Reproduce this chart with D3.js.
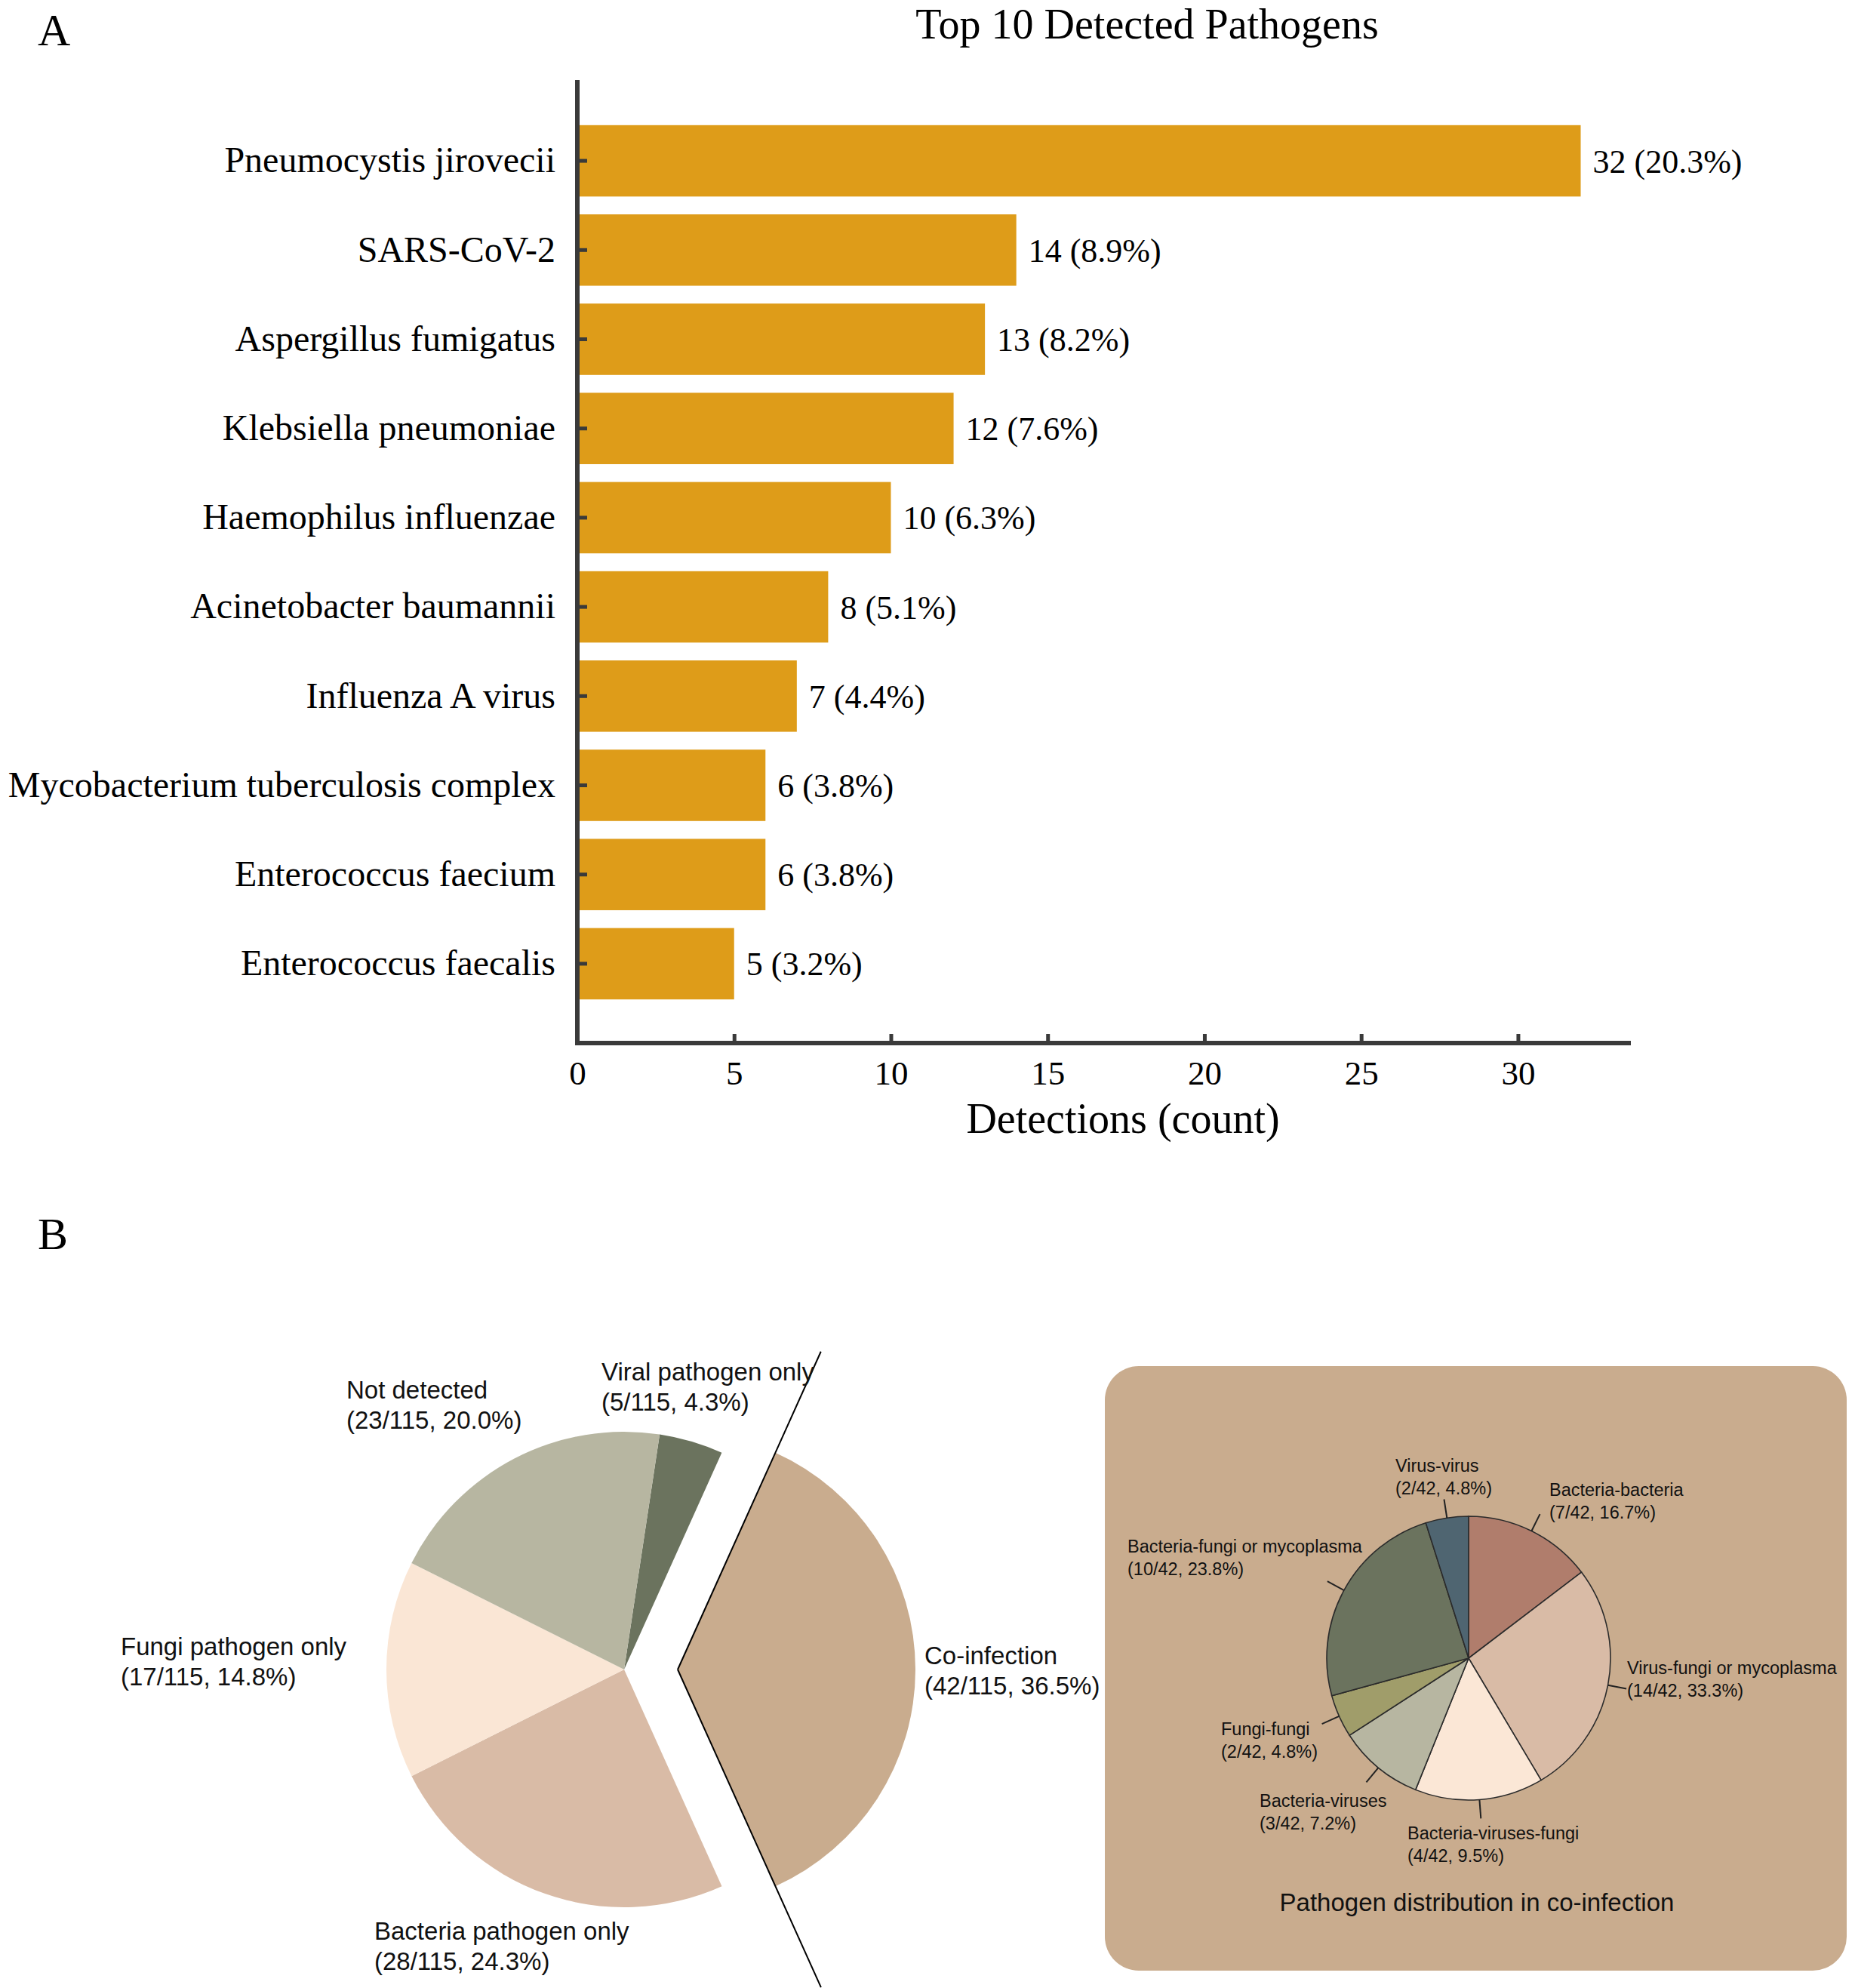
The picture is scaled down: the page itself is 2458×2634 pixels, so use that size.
<!DOCTYPE html>
<html>
<head>
<meta charset="utf-8">
<script src="https://cdn.jsdelivr.net/npm/d3@7"></script>
<style>
  body { margin: 0; background: #fff; }
  svg { display: block; }
</style>
</head>
<body>
<div id="chart"></div>
<script>
// ---- data: panel A ----
const pathogens = [
  "Pneumocystis jirovecii", "SARS-CoV-2", "Aspergillus fumigatus", "Klebsiella pneumoniae",
  "Haemophilus influenzae", "Acinetobacter baumannii", "Influenza A virus",
  "Mycobacterium tuberculosis complex", "Enterococcus faecium", "Enterococcus faecalis"
];
const detections = [32, 14, 13, 12, 10, 8, 7, 6, 6, 5];
const detectionPct = ["20.3%", "8.9%", "8.2%", "7.6%", "6.3%", "5.1%", "4.4%", "3.8%", "3.8%", "3.2%"];
const xTicks = [0, 5, 10, 15, 20, 25, 30];

// ---- data: panel B, main pie ----
const groupNames = ["Viral pathogen only", "Co-infection", "Bacteria pathogen only", "Fungi pathogen only", "Not detected"];
const groupCounts = [5, 42, 28, 17, 23];
const groupPct = ["4.3%", "36.5%", "24.3%", "14.8%", "20.0%"];
const groupTotal = 115;

// ---- data: panel B, co-infection pie ----
const coNames = ["Bacteria-bacteria", "Virus-fungi or mycoplasma", "Bacteria-viruses-fungi",
  "Bacteria-viruses", "Fungi-fungi", "Bacteria-fungi or mycoplasma", "Virus-virus"];
const coCounts = [7, 14, 4, 3, 2, 10, 2];
const coPct = ["16.7%", "33.3%", "9.5%", "7.2%", "4.8%", "23.8%", "4.8%"];
const coTotal = 42;
// slice sizes as they are drawn in the figure (not quite the printed counts)
const coSliceValues = [6, 11, 6, 4, 2, 10, 2];

// ---- styles ----
const serif = "'Liberation Serif', 'Times New Roman', serif";
const sans = "'Liberation Sans', Arial, sans-serif";
const barColor = "#DE9C19";
const axisColor = "#3a3a3a";
const groupColors = ["#6B735E", "#C9AC8E", "#D9BBA6", "#FAE6D5", "#B7B6A1"];
const coColors = ["#B07D6C", "#D9BBA6", "#FBE7D6", "#B7B6A1", "#A09D6A", "#6B735E", "#4F6571"];

const W = 2458, H = 2634;
const svg = d3.select("#chart").append("svg")
  .attr("width", W).attr("height", H)
  .attr("viewBox", `0 0 ${W} ${H}`);

// ================= Panel A =================
const ax0 = 765, ax1 = 2161, axTop = 106, axBottom = 1382;

const x = d3.scaleLinear().domain([0, 33.6]).range([ax0, ax1]);
const y = d3.scaleBand().domain(pathogens).range([154, 1336])
  .paddingInner(0.2).paddingOuter(0.1);

svg.append("text")
  .attr("x", 50).attr("y", 60)
  .attr("font-family", serif).attr("font-size", 60)
  .text("A");

svg.append("text")
  .attr("x", 1520).attr("y", 51)
  .attr("text-anchor", "middle")
  .attr("font-family", serif).attr("font-size", 56)
  .text("Top 10 Detected Pathogens");

const bars = pathogens.map((p, i) => ({ name: p, value: detections[i], pct: detectionPct[i] }));

svg.selectAll(".bar")
  .data(bars)
  .enter()
  .append("rect")
  .attr("class", "bar")
  .attr("x", x(0))
  .attr("y", d => y(d.name))
  .attr("width", d => x(d.value) - x(0))
  .attr("height", y.bandwidth())
  .attr("fill", barColor);

svg.selectAll(".bar-label")
  .data(bars)
  .enter()
  .append("text")
  .attr("class", "bar-label")
  .attr("x", d => x(d.value) + 16)
  .attr("y", d => y(d.name) + y.bandwidth() / 2)
  .attr("dy", "0.35em")
  .attr("font-family", serif).attr("font-size", 44)
  .text(d => `${d.value} (${d.pct})`);

// y axis
const yAxis = svg.append("g")
  .attr("transform", `translate(${ax0},0)`)
  .call(d3.axisLeft(y).tickSize(-13).tickPadding(29));
yAxis.select(".domain").remove();
yAxis.selectAll(".tick line").attr("stroke", axisColor).attr("stroke-width", 5);
yAxis.selectAll(".tick text")
  .attr("font-family", serif).attr("font-size", 48).attr("fill", "#000");

// x axis
const xAxis = svg.append("g")
  .attr("transform", `translate(0,${axBottom})`)
  .call(d3.axisBottom(x).tickValues(xTicks).tickSize(-12).tickPadding(23));
xAxis.select(".domain").remove();
xAxis.selectAll(".tick line").attr("stroke", axisColor).attr("stroke-width", 5);
xAxis.selectAll(".tick text")
  .attr("font-family", serif).attr("font-size", 45).attr("fill", "#000");

svg.append("line")
  .attr("x1", ax0).attr("x2", ax0).attr("y1", axTop).attr("y2", axBottom + 3)
  .attr("stroke", axisColor).attr("stroke-width", 6);
svg.append("line")
  .attr("x1", ax0 - 3).attr("x2", ax1).attr("y1", axBottom).attr("y2", axBottom)
  .attr("stroke", axisColor).attr("stroke-width", 6);

svg.append("text")
  .attr("x", 1488).attr("y", 1501)
  .attr("text-anchor", "middle")
  .attr("font-family", serif).attr("font-size", 56)
  .text("Detections (count)");

// ================= Panel B =================
svg.append("text")
  .attr("x", 50).attr("y", 1655)
  .attr("font-family", serif).attr("font-size", 60)
  .text("B");

const polar = (a, r) => [r * Math.sin(a), -r * Math.cos(a)];

// ---- main pie ----
const pc = { x: 827, y: 2212 };
const pr = 315;
const explode = 71;
const deg = Math.PI / 180;

const mainPie = d3.pie().sort(null)
  .startAngle(8.6 * deg).endAngle(8.6 * deg + 2 * Math.PI)
  .value(d => d.count);
const mainArc = d3.arc().innerRadius(0).outerRadius(pr);

const groups = groupNames.map((n, i) => ({ name: n, count: groupCounts[i], pct: groupPct[i], color: groupColors[i] }));
const mainSlices = mainPie(groups);

const mainG = svg.append("g").attr("transform", `translate(${pc.x},${pc.y})`);
mainG.selectAll(".slice")
  .data(mainSlices)
  .enter()
  .append("path")
  .attr("class", "slice")
  .attr("transform", d => {
    if (d.data.name !== "Co-infection") return null;
    const [dx, dy] = polar((d.startAngle + d.endAngle) / 2, explode);
    return `translate(${dx},${dy})`;
  })
  .attr("d", mainArc)
  .attr("fill", d => d.data.color);

// zoom lines running along the edges of the pulled-out slice
const co = mainSlices.find(d => d.data.name === "Co-infection");
const coOff = polar((co.startAngle + co.endAngle) / 2, explode);
[co.startAngle, co.endAngle].forEach(a => {
  const [ex, ey] = polar(a, 462);
  mainG.append("line")
    .attr("x1", coOff[0]).attr("y1", coOff[1])
    .attr("x2", coOff[0] + ex).attr("y2", coOff[1] + ey)
    .attr("stroke", "#000").attr("stroke-width", 2);
});

// label anchors relative to the pie centre (first baseline)
const mainLabelPos = {
  "Viral pathogen only": [-30, -383],
  "Co-infection": [398, -7],
  "Bacteria pathogen only": [-331, 358],
  "Fungi pathogen only": [-667, -19],
  "Not detected": [-368, -359]
};
groups.forEach(g => {
  const [lx, ly] = mainLabelPos[g.name];
  const t = mainG.append("text")
    .attr("font-family", sans).attr("font-size", 33).attr("fill", "#111");
  t.append("tspan").attr("x", lx).attr("y", ly).text(g.name);
  t.append("tspan").attr("x", lx).attr("y", ly + 40).text(`(${g.count}/${groupTotal}, ${g.pct})`);
});

// ---- co-infection panel ----
svg.append("rect")
  .attr("x", 1464).attr("y", 1810)
  .attr("width", 2447 - 1464).attr("height", 2611 - 1810)
  .attr("rx", 45).attr("ry", 45)
  .attr("fill", "#C9AC8E");

const sc = { x: 1946, y: 2197 };
const sr = 188;
const coPie = d3.pie().sort(null).value(d => d.slice);
const coArc = d3.arc().innerRadius(0).outerRadius(sr);
const coData = coNames.map((n, i) => ({ name: n, slice: coSliceValues[i], count: coCounts[i], pct: coPct[i], color: coColors[i] }));
const coSlices = coPie(coData);

const coG = svg.append("g").attr("transform", `translate(${sc.x},${sc.y})`);
coG.selectAll(".co-slice")
  .data(coSlices)
  .enter()
  .append("path")
  .attr("class", "co-slice")
  .attr("d", coArc)
  .attr("fill", d => d.data.color)
  .attr("stroke", "#2b2b2b")
  .attr("stroke-width", 1.6);

// leader ticks
coG.selectAll(".leader")
  .data(coSlices)
  .enter()
  .append("line")
  .attr("class", "leader")
  .each(function(d) {
    const a = (d.startAngle + d.endAngle) / 2;
    const [x1, y1] = polar(a, sr);
    const [x2, y2] = polar(a, sr + 25);
    d3.select(this).attr("x1", x1).attr("y1", y1).attr("x2", x2).attr("y2", y2);
  })
  .attr("stroke", "#222").attr("stroke-width", 2);

const coLabelPos = {
  "Bacteria-bacteria": [107, -215],
  "Virus-fungi or mycoplasma": [210, 21],
  "Bacteria-viruses-fungi": [-81, 240],
  "Bacteria-viruses": [-277, 197],
  "Fungi-fungi": [-328, 102],
  "Bacteria-fungi or mycoplasma": [-452, -140],
  "Virus-virus": [-97, -247]
};
coData.forEach(d => {
  const [lx, ly] = coLabelPos[d.name];
  const t = coG.append("text")
    .attr("font-family", sans).attr("font-size", 23.5).attr("fill", "#111");
  t.append("tspan").attr("x", lx).attr("y", ly).text(d.name);
  t.append("tspan").attr("x", lx).attr("y", ly + 30).text(`(${d.count}/${coTotal}, ${d.pct})`);
});

svg.append("text")
  .attr("x", 1957).attr("y", 2532)
  .attr("text-anchor", "middle")
  .attr("font-family", sans).attr("font-size", 33).attr("fill", "#111")
  .text("Pathogen distribution in co-infection");
</script>
</body>
</html>
